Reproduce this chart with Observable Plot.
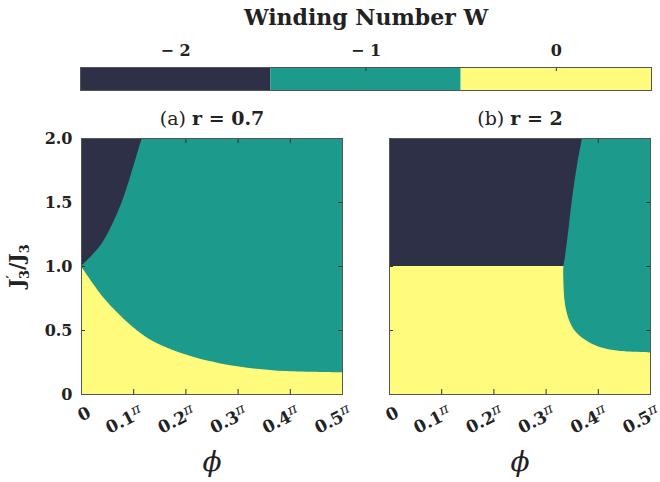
<!DOCTYPE html>
<html><head><meta charset="utf-8">
<script src="https://cdn.jsdelivr.net/npm/d3@7"></script>
<script src="https://cdn.jsdelivr.net/npm/@observablehq/plot@0.6"></script>
<style>
body{margin:0;background:#fff;}
#chart{width:660px;height:482px;position:relative;overflow:hidden;background:#fff;}
#chart svg{display:block;}
</style></head><body><div id="chart"></div>
<script>
// ---- data ----
const windingValues = [-2, -1, 0];
const windingColors = ["#2e3047", "#1c9a8b", "#fefb7d"];
const colorbarTitle = "Winding Number W";
const panels = ["a", "b"];
const panelTitles = ["(a) r = 0.7", "(b) r = 2"];
const xTicks = [0, 0.1, 0.2, 0.3, 0.4, 0.5];   // in units of π
const yTicks = [0, 0.5, 1, 1.5, 2];
const phiDomain = [0, 0.5];
const jDomain = [0, 2];

// panel (a) r = 0.7 : background W = -1, dark wedge (W=-2) top-left, yellow (W=0) bottom
const aBackgroundW = -1;
const aDarkJ   = [1.0, 1.15, 1.28, 1.41, 1.54, 1.67, 1.80, 1.90, 2.0];
const aDarkPhi = [0, 0.035, 0.054, 0.069, 0.0815, 0.092, 0.1017, 0.109, 0.1164];
const aYellowPhi = [0, 0.0445, 0.0954, 0.140, 0.2036, 0.267, 0.331, 0.394, 0.5];
const aYellowJ   = [1.0, 0.746, 0.538, 0.408, 0.304, 0.239, 0.200, 0.179, 0.169];

// panel (b) r = 2 : W=-2 above J=1, W=0 below, teal (W=-1) region on the right
const bSplitJ = 1;
const bUpperW = -2, bLowerW = 0;
const bTealJ   = [2.0, 1.799, 1.538, 1.279, 1.07, 0.993, 0.889, 0.707, 0.577, 0.486, 0.421, 0.369, 0.338, 0.325];
const bTealPhi = [0.370, 0.3606, 0.351, 0.3435, 0.337, 0.334, 0.334, 0.337, 0.345, 0.3575, 0.3765, 0.402, 0.44, 0.5];

// ---- tables ----
const regionRects = [
  {panel: "a", x1: phiDomain[0], x2: phiDomain[1], y1: jDomain[0], y2: jDomain[1], W: aBackgroundW},
  {panel: "b", x1: phiDomain[0], x2: phiDomain[1], y1: bSplitJ, y2: jDomain[1], W: bUpperW},
  {panel: "b", x1: phiDomain[0], x2: phiDomain[1], y1: jDomain[0], y2: bSplitJ, W: bLowerW}
];
const aDark = aDarkJ.map((J, i) => ({panel: "a", J, phi: aDarkPhi[i], W: -2}));
const aYellow = aYellowPhi.map((phi, i) => ({panel: "a", phi, J: aYellowJ[i], W: 0}));
const bTeal = bTealJ.map((J, i) => ({panel: "b", J, phi: bTealPhi[i], W: -1}));
const titles = panels.map((p, i) => ({panel: p, title: panelTitles[i]}));

const FONT = "'DejaVu Serif', serif";
const color = {type: "ordinal", domain: windingValues, range: windingColors};
const chart = document.getElementById("chart");

// ---- colorbar ----
const cbH = 100, cbTop = 67, cbBottom = 10;
const cb = Plot.plot({
  width: 660, height: cbH, marginLeft: 80, marginRight: 9, marginTop: cbTop, marginBottom: cbBottom,
  style: {fontFamily: FONT, background: "transparent", color: "#222"},
  x: {domain: [d3.min(windingValues) - 0.5, d3.max(windingValues) + 0.5]},
  color,
  marks: [
    Plot.barX(windingValues, {x1: d => d - 0.5, x2: d => d + 0.5, fill: d => d}),
    Plot.tickX(windingValues, {x: d => d, insetBottom: cbH - cbTop - cbBottom - 4, stroke: "#333"}),
    Plot.frame({stroke: "#555"}),
    Plot.axisX(windingValues, {anchor: "top", tickSize: 0, tickPadding: 12, label: null,
      tickFormat: d => d < 0 ? `\u2212 ${-d}` : `${d}`, fontSize: 16, fontWeight: "bold"}),
    Plot.text([colorbarTitle], {frameAnchor: "top", lineAnchor: "middle", dy: -50, fontSize: 22, fontWeight: "bold"})
  ]
});
chart.appendChild(cb);

// ---- panels ----
const H = 382, mT = 38, mB = 88, mL = 80, mR = 9;
const frameH = H - mT - mB;
const frameW = 262;
const main = Plot.plot({
  width: 660, height: H, marginLeft: mL, marginRight: mR, marginTop: mT, marginBottom: mB,
  style: {fontFamily: FONT, background: "transparent", color: "#222", overflow: "visible"},
  fx: {domain: panels, axis: null, paddingInner: 0.152, paddingOuter: 0},
  x: {domain: phiDomain},
  y: {domain: jDomain},
  color,
  marks: [
    Plot.rect(regionRects, {fx: "panel", x1: "x1", x2: "x2", y1: "y1", y2: "y2", fill: "W"}),
    Plot.areaX(aDark, {fx: "panel", y: "J", x1: phiDomain[0], x2: "phi", fill: "W", curve: "catmull-rom"}),
    Plot.areaY(aYellow, {fx: "panel", x: "phi", y1: jDomain[0], y2: "J", fill: "W", curve: "catmull-rom"}),
    Plot.areaX(bTeal, {fx: "panel", y: "J", x1: "phi", x2: phiDomain[1], fill: "W", curve: "catmull-rom"}),
    Plot.tickX(xTicks, {x: d => d, insetTop: frameH - 5, stroke: "#333"}),
    Plot.tickX(xTicks, {x: d => d, insetBottom: frameH - 5, stroke: "#333"}),
    Plot.tickY(yTicks, {y: d => d, insetRight: frameW - 5, stroke: "#333"}),
    Plot.tickY(yTicks, {y: d => d, insetLeft: frameW - 5, stroke: "#333"}),
    Plot.frame({stroke: "#555"}),
    Plot.axisY(yTicks, {tickSize: 0, tickPadding: 9, label: null, fontSize: 16, fontWeight: "bold",
      tickFormat: d => d === 0 ? "0" : d.toFixed(1)}),
    Plot.axisX(xTicks, {tickSize: 0, tickPadding: 17, tickRotate: -27, label: null, fontSize: 17, fontWeight: "bold",
      dx: 8, tickFormat: d => d === 0 ? "0" : `${d}π`}),
    Plot.text(titles, {fx: "panel", text: "title", frameAnchor: "top", lineAnchor: "middle", dy: -20, fontSize: 19}),
    Plot.text(titles, {fx: "panel", text: () => "\u03D5", frameAnchor: "bottom", lineAnchor: "middle", dy: 68, fontSize: 28, fontStyle: "italic"})
  ]
});
chart.appendChild(main);

// ---- text refinements ----
d3.select(main).selectAll("text").each(function () {
  const t = this.textContent;
  const m = t.match(/^(\([ab]\))\s(.*)$/);
  if (m) {
    this.textContent = "";
    d3.select(this).append("tspan").attr("font-weight", "normal").text(m[1] + " ");
    d3.select(this).append("tspan").attr("font-weight", "bold").text(m[2]);
  } else if (/π$/.test(t) && t.length > 1) {
    this.textContent = "";
    d3.select(this).append("tspan").text(t.slice(0, -1));
    d3.select(this).append("tspan").attr("font-size", "14").attr("font-style", "italic")
      .attr("font-weight", "normal").attr("dy", "-0.4em").text("π");
  }
});
// y-axis label J'_3 / J_3
const yl = d3.select(main).append("text")
  .attr("transform", `translate(24,${mT + frameH / 2}) rotate(-90)`)
  .attr("text-anchor", "middle").attr("font-family", FONT).attr("font-weight", "bold")
  .attr("font-size", 20).attr("fill", "#222");
yl.append("tspan").text("J");
yl.append("tspan").attr("font-size", 13).attr("dy", "-8").text("′");
yl.append("tspan").attr("font-size", 13).attr("dx", "-4").attr("dy", "13").text("3");
yl.append("tspan").attr("dy", "-5").text("/J");
yl.append("tspan").attr("font-size", 13).attr("dy", "5").text("3");
</script></body></html>
